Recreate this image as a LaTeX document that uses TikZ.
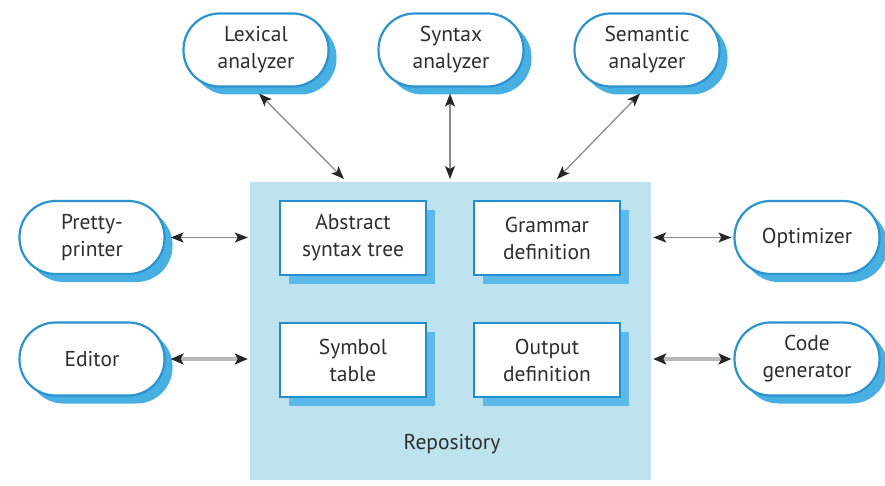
\documentclass[tikz,border=0pt]{standalone}
\usepackage{fontspec}
\setmainfont{PT Sans}
\usetikzlibrary{arrows.meta,shadows}
\definecolor{repofill}{HTML}{BEE3EE}
\definecolor{ovalline}{HTML}{2A93D0}
\definecolor{ovalshadow}{HTML}{48AFE2}
\definecolor{boxline}{HTML}{1F8FD0}
\definecolor{boxshadow}{HTML}{5DB9E8}
\definecolor{txt}{HTML}{2E2E2E}
\tikzset{
  base/.style={font=\fontsize{21.5}{27}\selectfont, text=txt, align=center, inner sep=0pt},
  oval/.style={base, draw=ovalline, line width=2.2pt, fill=white, rounded corners=36pt,
    minimum width=145pt, minimum height=73pt,
    general shadow={fill=ovalshadow, shadow xshift=8pt, shadow yshift=-8pt}},
  store/.style={base, draw=boxline, line width=2.6pt, fill=white,
    minimum width=146pt, minimum height=74pt,
    general shadow={fill=boxshadow, shadow xshift=9pt, shadow yshift=-9pt}},
  thinlink/.style={{Stealth[length=13pt,width=10pt,inset=3pt,color=black!85]}-{Stealth[length=13pt,width=10pt,inset=3pt,color=black!85]}, draw=gray!90, line width=1.3pt},
  thicklink/.style={{Stealth[length=13pt,width=11pt,inset=3pt,color=black!85]}-{Stealth[length=13pt,width=11pt,inset=3pt,color=black!85]}, draw=gray!55, line width=3.5pt}
}
\begin{document}
\begin{tikzpicture}[x=1pt,y=-1pt]
\useasboundingbox (0,0) rectangle (885,486);
% repository
\node[fill=repofill, minimum width=401pt, minimum height=298pt, inner sep=0pt] (repo) at (450.5,331) {};
\node[base] (repolabel) at (452,444) {Repository};
% stores
\node[store] (ast) at (353,238) {Abstract\\syntax tree};
\node[store] (gd) at (547,238) {Grammar\\definition};
\node[store] (st) at (353,360) {Symbol\\table};
\node[store] (od) at (547,360) {Output\\definition};
% tools
\node[oval] (lex) at (256,50) {Lexical\\analyzer};
\node[oval] (syn) at (451,50) {Syntax\\analyzer};
\node[oval] (sem) at (647,50) {Semantic\\analyzer};
\node[oval] (pp) at (92,237.5) {Pretty-\\printer};
\node[oval] (ed) at (92,359) {Editor};
\node[oval] (opt) at (807,237.5) {Optimizer};
\node[oval] (cg) at (807,359) {Code\\generator};
% connector ends
\coordinate (lexend) at (344,179);
\coordinate (synend) at (450,179);
\coordinate (semend) at (557,179);
% connectors
\draw[thinlink] ([shift={(3,6)}]lex.south) -- (lexend);
\draw[thinlink] ([shift={(-1,6)}]syn.south) -- (synend);
\draw[thinlink] ([shift={(-7,6)}]sem.south) -- (semend);
\draw[thinlink] ([xshift=5pt]pp.east) -- ([xshift=-2pt]repo.west |- pp.east);
\draw[thicklink] ([xshift=5pt]ed.east) -- ([xshift=-2pt]repo.west |- ed.east);
\draw[thinlink] ([xshift=2pt]repo.east |- opt.west) -- ([xshift=-2pt]opt.west);
\draw[thicklink] ([xshift=2pt]repo.east |- cg.west) -- ([xshift=-2pt]cg.west);
\end{tikzpicture}
\end{document}
